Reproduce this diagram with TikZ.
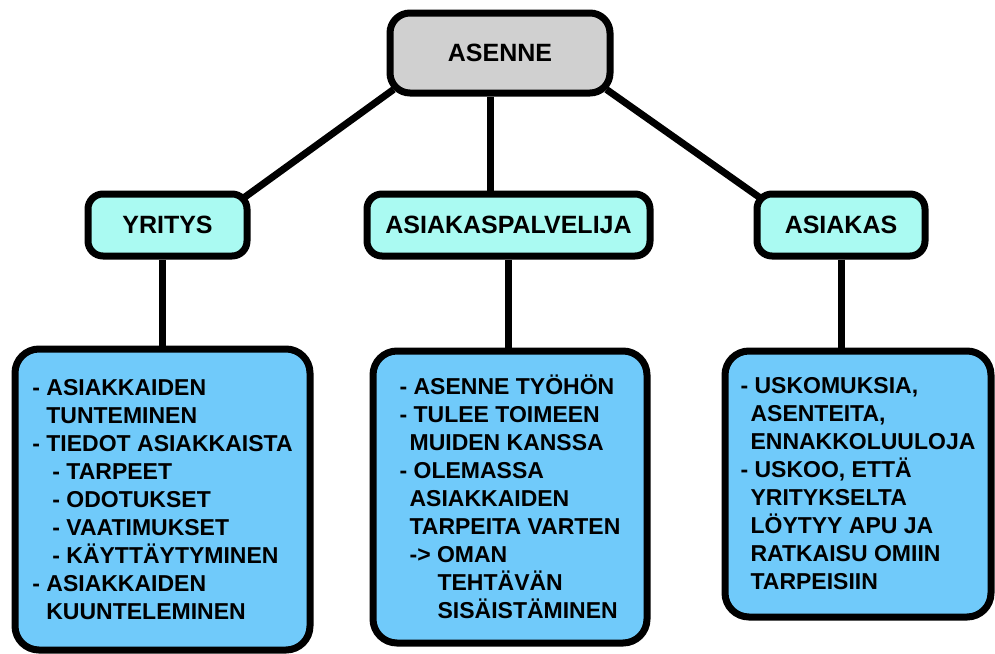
\documentclass[tikz,border=0pt]{standalone}
\usepackage{fontspec}
\setmainfont{Liberation Sans}
\usepackage{tikz}
\usetikzlibrary{backgrounds}
\definecolor{topgray}{RGB}{208,208,208}
\definecolor{midcyan}{RGB}{170,250,242}
\definecolor{listblue}{RGB}{112,202,250}
\lefthyphenmin=64
\tikzset{box/.style={draw=black, line width=7pt, inner sep=0pt, font=\bfseries\fontsize{25}{28}\selectfont},
	topbox/.style={box, fill=topgray, rounded corners=20pt},
	midbox/.style={box, fill=midcyan, rounded corners=15pt},
	listbox/.style={box, fill=listblue, rounded corners=24pt, align=left, font=\bfseries\fontsize{23}{28}\selectfont},
	link/.style={line width=7pt}}
\newcommand{\ind}[1]{\hspace*{#1pt}}

\begin{document}
\begin{tikzpicture}[x=1pt,y=-1pt]
	\useasboundingbox (0,0) rectangle (995,653);
	
	% top
	\node[topbox, minimum width=220pt, minimum height=80pt] (asenne) at (500,53) {ASENNE};
	
	% second level
	\node[midbox, minimum width=159pt, minimum height=62pt] (yritys) at (167.5,225) {YRITYS};
	\node[midbox, minimum width=283pt, minimum height=62pt] (palvelija) at (508.5,225) {ASIAKASPALVELIJA};
	\node[midbox, minimum width=168pt, minimum height=62pt] (asiakas) at (841,225) {ASIAKAS};
	
	% lists
	\node[listbox, minimum width=295pt, minimum height=301pt] (ytieto) at (162.5,499.5) {%
		- ASIAKKAIDEN\\
		\ind{14}TUNTEMINEN\\
		- TIEDOT ASIAKKAISTA\\
		\ind{20}- TARPEET\\
		\ind{20}- ODOTUKSET\\
		\ind{20}- VAATIMUKSET\\
		\ind{20}- KÄYTTÄYTYMINEN\\
		- ASIAKKAIDEN\\
		\ind{14}KUUNTELEMINEN};
	\node[listbox, minimum width=274pt, minimum height=292pt] (ptieto) at (510,497) {%
		- ASENNE TYÖHÖN\\
		- TULEE TOIMEEN\\
		\ind{10}MUIDEN KANSSA\\
		- OLEMASSA\\
		\ind{10}ASIAKKAIDEN\\
		\ind{10}TARPEITA VARTEN\\
		\ind{10}-> OMAN\\
		\ind{38}TEHTÄVÄN\\
		\ind{38}SISÄISTÄMINEN};
	\node[listbox, minimum width=266pt, minimum height=266pt] (atieto) at (858,484) {%
		- USKOMUKSIA,\\
		\ind{10}ASENTEITA,\\
		\ind{10}ENNAKKOLUULOJA\\
		- USKOO, ETTÄ\\
		\ind{10}YRITYKSELTA\\
		\ind{10}LÖYTYY APU JA\\
		\ind{10}RATKAISU OMIIN\\
		\ind{10}TARPEISIIN};
	
	% links
	\begin{scope}[on background layer]
		\draw[link] ([xshift=7pt,yshift=7pt]asenne.south west) -- ([xshift=-9pt,yshift=-9pt]yritys.north east);
		\draw[link] ([xshift=-10pt]asenne.south) -- ([xshift=-10pt]asenne.south |- palvelija.north);
		\draw[link] ([xshift=-7pt,yshift=7pt]asenne.south east) -- ([xshift=9pt,yshift=-9pt]asiakas.north west);
		\draw[link] (ytieto.north) -- (ytieto.north |- yritys.south);
		\draw[link] (palvelija.south) -- (palvelija.south |- ptieto.north);
		\draw[link] (asiakas.south) -- (asiakas.south |- atieto.north);
	\end{scope}
\end{tikzpicture}
\end{document}
